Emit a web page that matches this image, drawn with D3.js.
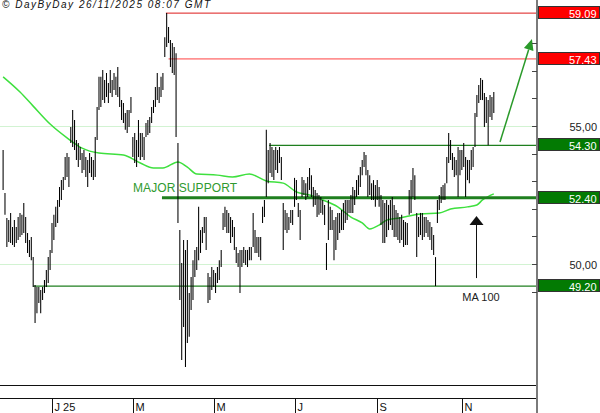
<!DOCTYPE html>
<html><head><meta charset="utf-8">
<script src="https://cdn.jsdelivr.net/npm/d3@7"></script>
<style>html,body{margin:0;padding:0;background:#fff;overflow:hidden}svg{display:block}</style>
</head><body><svg id="c" width="600" height="413"></svg>
<script>
// ---- data ----
const startDate = "2024-11-26";
const endDate = "2025-11-26";
const highs = [
54.13,52.57,51.67,51.59,51.85,51.34,51.59,51.34,51.70,51.85,
51.78,52.21,51.70,51.12,50.87,50.98,50.25,49.24,49.17,49.17,
49.06,49.17,49.42,49.78,50.25,50.51,51.49,51.78,52.07,52.32,
52.79,53.04,53.15,53.88,54.02,53.88,54.96,55.58,55.22,54.49,
54.38,54.24,54.02,54.13,53.88,53.77,54.02,53.88,53.77,54.60,
55.69,56.78,56.78,57.03,56.67,56.92,56.56,57.03,56.67,56.92,
56.78,57.14,56.41,55.94,55.83,55.47,55.58,55.58,56.05,54.60,
54.75,54.49,55.22,54.75,54.75,54.60,55.11,55.22,55.33,55.69,
55.94,56.41,56.92,56.41,56.78,56.92,58.22,59.09,58.59,58.12,
58.01,57.86,57.64,54.38,51.23,50.04,50.87,50.51,50.87,48.95,
49.53,50.14,50.51,50.62,52.07,51.23,51.34,51.70,51.70,49.67,
49.53,49.89,49.78,49.67,49.89,50.14,50.51,51.85,52.07,51.96,
51.85,51.70,51.59,51.34,50.62,50.40,50.51,50.51,50.62,50.51,
50.51,50.62,50.62,51.85,51.23,50.98,50.98,50.98,52.07,52.32,
54.86,54.13,54.38,54.24,54.13,54.24,54.13,54.24,53.88,52.21,
51.96,51.85,51.70,51.96,51.96,53.12,53.04,52.21,51.96,53.15,
53.04,52.93,53.15,53.48,53.22,52.79,52.68,52.57,52.50,52.43,
52.32,52.14,50.76,52.32,52.07,51.96,51.59,51.70,51.85,51.85,
51.96,52.21,52.32,52.32,52.32,52.50,52.79,52.68,53.04,53.22,
53.51,53.77,54.06,53.95,53.41,53.22,52.93,53.04,52.86,53.04,
52.79,52.50,52.32,52.21,52.32,52.14,52.32,52.43,52.14,51.96,
51.85,51.70,51.78,51.59,51.52,51.49,52.68,53.04,53.48,53.22,
51.85,51.70,51.85,51.85,51.70,51.70,51.59,51.52,51.34,51.05,
50.25,52.32,52.50,52.79,52.86,52.93,53.88,54.75,54.49,54.02,
53.88,53.77,54.24,54.13,54.13,54.38,53.88,53.77,53.77,54.13,
54.24,55.47,56.12,56.49,56.74,56.67,56.20,56.05,55.94,56.12,
56.05,56.23];
const lows = [
52.68,51.78,50.62,50.80,50.76,50.69,50.62,50.76,50.87,50.98,
51.05,51.12,50.76,50.40,50.25,50.14,49.17,47.86,48.22,48.59,
48.22,48.70,48.95,49.17,49.31,49.78,50.40,50.87,51.34,51.49,
52.07,52.32,52.68,53.04,53.15,52.79,54.38,54.24,54.13,53.77,
53.51,53.77,53.30,53.41,53.15,52.79,53.30,53.15,53.04,53.15,
54.49,55.58,55.69,55.94,55.83,56.05,55.83,56.20,56.05,56.30,
56.12,56.05,55.69,55.22,55.11,54.86,54.75,54.96,55.47,53.88,
53.66,53.51,53.88,53.77,53.88,53.77,54.60,54.67,54.75,55.11,
55.47,55.69,55.94,55.83,56.05,56.30,57.50,57.86,58.01,57.14,
56.92,56.85,54.60,51.49,48.70,46.52,47.72,46.27,47.14,47.36,
48.33,48.70,49.53,49.78,50.14,50.40,50.76,51.12,50.51,48.59,
48.70,49.06,49.17,48.95,49.31,49.42,49.89,51.23,51.34,51.12,
51.12,50.76,50.98,50.51,50.04,49.89,48.95,49.89,50.04,49.96,
49.89,50.14,50.14,50.62,50.40,50.40,50.25,50.14,51.49,51.70,
52.43,52.93,53.30,53.15,53.04,53.41,53.30,53.66,53.04,50.51,
51.23,51.12,51.23,51.49,51.41,52.07,52.32,51.70,50.87,52.43,
52.50,52.32,52.43,52.68,52.43,52.07,52.14,51.70,51.78,51.85,
51.78,51.41,49.78,50.87,51.23,51.23,50.14,50.51,50.87,51.12,
51.23,51.23,51.49,51.59,51.85,51.85,51.85,52.14,52.43,52.50,
52.79,53.22,53.51,53.22,52.43,52.50,52.32,52.32,52.07,52.32,
52.07,51.41,50.76,50.76,50.98,51.23,51.41,51.23,50.98,50.98,
50.87,50.76,50.87,50.62,50.69,50.69,51.78,51.85,52.43,52.32,
50.25,50.98,51.05,50.87,50.98,51.12,50.98,50.87,50.51,50.33,
49.20,51.49,51.96,52.21,52.32,52.32,52.93,53.66,53.77,53.41,
53.15,53.22,52.43,53.22,53.41,53.51,52.43,53.04,52.93,53.41,
53.51,54.24,55.33,55.83,55.94,55.94,54.96,55.11,54.30,55.33,
55.22,55.47];
// MA 100, read at a set of bar indices
const maIndex = [0,9,16,25,34,42,51,64,73,80,85,93,98,103,114,122,131,140,149,156,163,170,178,185,191,195,200,204,211,222,232,238,247,252,255,261];
const maValue = [56.78,56.23,55.72,55.07,54.57,54.20,54.02,53.95,53.66,53.48,53.48,53.70,53.51,53.26,53.22,53.15,53.26,53.01,52.93,52.61,52.50,52.32,52.07,51.70,51.49,51.27,51.41,51.59,51.67,51.81,51.85,51.99,52.07,52.14,52.32,52.54];
// horizontal levels
const levelValues = [59.09, 57.43, 54.30, 52.40, 49.20];
const levelLabels = ["59.09", "57.43", "54.30", "52.40", "49.20"];
const levelStartIdx = [86.6, 88, 141.5, 84.5, 16];
const levelKind = ["res", "res2", "sup", "major", "sup"];
// axis
const yTickValues = [49,50,51,52,53,54,55,56,57,58];
const yLabelValues = [50, 55];
const yLabelTexts = ["50,00", "55,00"];
const monthStarts = ["2025-01-01","2025-03-01","2025-05-01","2025-07-01","2025-09-01","2025-11-01"];
const monthLabels = ["J 25","M","M","J","S","N"];

// ---- build ----
const parse = d3.utcParse("%Y-%m-%d");
const days = d3.utcDay.range(parse(startDate), d3.utcDay.offset(parse(endDate), 1))
  .filter(d => d.getUTCDay() !== 0 && d.getUTCDay() !== 6);
const bars = days.map((d, i) => ({date: d, i, h: highs[i], l: lows[i]}));
const n = bars.length;

const svg = d3.select("#c");
const FONT = "'Liberation Sans', Arial, sans-serif";
const W = 600, H = 413, axisX = 537;
const x = d3.scaleLinear().domain([0, n - 1]).range([3.1, 493.8]);
const y = d3.scaleLinear().domain([50, 55]).range([264, 126]);

svg.append("rect").attr("width", W).attr("height", H).attr("fill", "#ffffff");

// light grid lines
svg.append("g").selectAll("line").data(yLabelValues).join("line")
  .attr("x1", 0).attr("x2", axisX).attr("y1", d => Math.round(y(d)) + 0.5).attr("y2", d => Math.round(y(d)) + 0.5)
  .attr("stroke", "#d2f3d2").attr("stroke-width", 1);

// bottom frame lines
[385.5, 398.5].forEach(v => svg.append("line").attr("x1", 0).attr("x2", axisX).attr("y1", v).attr("y2", v)
  .attr("stroke", "#111").attr("stroke-width", 1));

// month ticks
const monthIdx = monthStarts.map(s => d3.bisector(b => b.date).left(bars, parse(s)));
const mt = svg.append("g");
monthIdx.forEach((mi, k) => {
  const px = Math.round(x(mi)) + 0.5;
  mt.append("line").attr("x1", px).attr("x2", px).attr("y1", 398).attr("y2", H).attr("stroke", "#111");
  mt.append("text").attr("x", px + 2).attr("y", 411).attr("font-family", FONT).attr("font-size", 11)
    .attr("fill", "#111").text(monthLabels[k]);
});

// MA 100 line
const maPts = maIndex.map((j, k) => [j, maValue[k]]);
svg.append("path").datum(maPts)
  .attr("d", d3.line().x(d => x(d[0])).y(d => y(d[1])).curve(d3.curveMonotoneX))
  .attr("fill", "none").attr("stroke", "#3ee03e").attr("stroke-width", 1.5);

// horizontal levels
const lvlColor = {res: "#dd1a1a", res2: "#ff4040", sup: "#1f7f1f", major: "#1f7f1f"};
const lvlWidth = {res: 1, res2: 1, sup: 1.2, major: 3};
svg.append("g").selectAll("line").data(levelValues).join("line")
  .attr("x1", (d, k) => x(levelStartIdx[k])).attr("x2", axisX)
  .attr("y1", d => y(d)).attr("y2", d => y(d))
  .attr("stroke", (d, k) => lvlColor[levelKind[k]])
  .attr("stroke-width", (d, k) => lvlWidth[levelKind[k]]);

// price bars
svg.append("g").selectAll("line").data(bars).join("line")
  .attr("x1", d => x(d.i)).attr("x2", d => x(d.i))
  .attr("y1", d => y(d.h)).attr("y2", d => y(d.l))
  .attr("stroke", "#000").attr("stroke-width", 1.05);

// MAJOR SUPPORT label
svg.append("text").attr("x", x(69.1)).attr("y", y(52.61))
  .attr("font-family", FONT).attr("font-size", 12).attr("fill", "#2f9a2f")
  .attr("textLength", 104).attr("lengthAdjust", "spacing").text("MAJOR SUPPORT");

// green arrow (target)
const gA = [[264.3, 54.42], [281.3, 58.15]];
const p0 = [x(gA[0][0]), y(gA[0][1])], p1 = [x(gA[1][0]), y(gA[1][1])];
const ang = Math.atan2(p1[1] - p0[1], p1[0] - p0[0]);
const hl = 11, hw = 5;
const bx = p1[0] - hl * Math.cos(ang), by = p1[1] - hl * Math.sin(ang);
svg.append("line").attr("x1", p0[0]).attr("y1", p0[1]).attr("x2", bx).attr("y2", by)
  .attr("stroke", "#2a9a2a").attr("stroke-width", 1.5);
svg.append("polygon").attr("points", [
  p1, [bx + hw * Math.sin(ang), by - hw * Math.cos(ang)], [bx - hw * Math.sin(ang), by + hw * Math.cos(ang)]
].map(p => p.join(",")).join(" ")).attr("fill", "#2a9a2a");

// black arrow MA 100
const bA = [251.5, 49.49, 51.74];
const ax = Math.round(x(bA[0])) + 0.5;
svg.append("line").attr("x1", ax).attr("x2", ax).attr("y1", y(bA[1])).attr("y2", y(bA[2]) + 8)
  .attr("stroke", "#111").attr("stroke-width", 1);
svg.append("polygon").attr("points", `${ax},${y(bA[2])} ${ax - 7},${y(bA[2]) + 9} ${ax + 7},${y(bA[2]) + 9}`)
  .attr("fill", "#111");
svg.append("text").attr("x", x(254.2)).attr("y", y(48.66)).attr("text-anchor", "middle")
  .attr("font-family", FONT).attr("font-size", 11).attr("fill", "#222").text("MA 100");

// right axis
svg.append("line").attr("x1", axisX).attr("x2", axisX).attr("y1", 0).attr("y2", H)
  .attr("stroke", "#7a7a7a").attr("stroke-width", 2);
svg.append("g").selectAll("line").data(yTickValues).join("line")
  .attr("x1", axisX - 5).attr("x2", axisX).attr("y1", d => Math.round(y(d)) + 0.5).attr("y2", d => Math.round(y(d)) + 0.5)
  .attr("stroke", "#444").attr("stroke-width", 1);
svg.append("g").selectAll("text").data(yLabelValues).join("text")
  .attr("x", 597).attr("y", d => y(d) + 4.5).attr("text-anchor", "end")
  .attr("font-family", FONT).attr("font-size", 11).attr("fill", "#222")
  .text((d, k) => yLabelTexts[k]);

// level label boxes
const boxFill = {res: "#ff0000", res2: "#ff0000", sup: "#037a03", major: "#037a03"};
const lb = svg.append("g");
levelValues.forEach((v, k) => {
  const cy = Math.round(y(v));
  lb.append("rect").attr("x", 538.5).attr("y", cy - 6.5).attr("width", 61).attr("height", 12)
    .attr("fill", boxFill[levelKind[k]]).attr("stroke", "#333").attr("stroke-width", 1);
  lb.append("text").attr("x", 596.5).attr("y", cy + 4.5).attr("text-anchor", "end")
    .attr("font-family", FONT).attr("font-size", 11).attr("fill", "#fff").text(levelLabels[k]);
});

// copyright
svg.append("text").attr("x", 2).attr("y", 7.5).attr("font-family", FONT).attr("font-size", 10)
  .attr("font-style", "italic").attr("fill", "#111").attr("textLength", 208).attr("lengthAdjust", "spacing")
  .text("© DayByDay 26/11/2025  08:07 GMT");
</script></body></html>
